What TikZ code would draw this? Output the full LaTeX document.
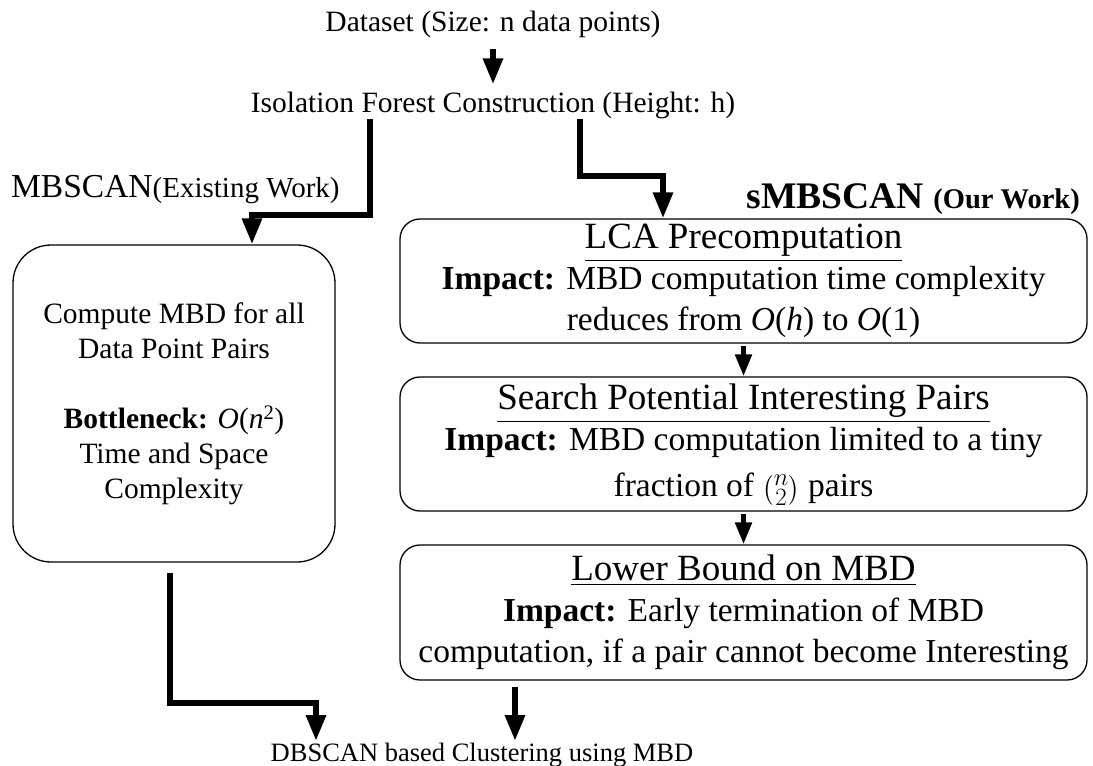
\documentclass[tikz,border=0pt]{standalone}
\usepackage{amsmath}
\usepackage{fontspec}
\setmainfont{Liberation Serif}
\usetikzlibrary{arrows.meta,positioning}
\newcommand{\stagetitle}[1]{{\fontsize{37}{44}\selectfont\underline{#1}}}
\tikzset{
  plainlabel/.style={
    inner sep=0pt,
    font=\fontsize{29.5}{35}\selectfont
  },
  legacybox/.style={
    draw,
    line width=1.3pt,
    rounded corners=38pt,
    align=center,
    minimum width=322pt,
    minimum height=317pt,
    font=\fontsize{29.5}{35}\selectfont
  },
  stagebox/.style={
    draw,
    line width=1.3pt,
    rounded corners=20pt,
    align=center,
    minimum width=687pt,
    inner sep=0pt,
    font=\fontsize{33.5}{41}\selectfont
  },
  heavyarrow/.style={-{Triangle[width=19pt,length=26pt]}, line width=6pt},
  thinarrow/.style={-{Triangle[width=16pt,length=22pt]}, line width=5pt, shorten <=2pt}
}

\begin{document}
\begin{tikzpicture}[x=1pt,y=-1pt]
  \useasboundingbox (0,0) rectangle (1093,766);
  \node[plainlabel, anchor=base] (data) at (493,31) {Dataset (Size: n data points)};
  \node[plainlabel, anchor=base] (iso) at (493,112) {Isolation Forest Construction (Height: h)};
  \node[anchor=base west, inner sep=0pt] (oldtag) at (11,197) {\fontsize{33.5}{40}\selectfont MBSCAN\fontsize{29}{35}\selectfont(Existing Work)};
  \node[anchor=base east, inner sep=0pt, font=\bfseries] (newtag) at (1080,208) {\fontsize{37.5}{44}\selectfont sMBSCAN \fontsize{28.5}{34}\selectfont(Our Work)};
  \node[legacybox] (oldwork) at (174,403.5) {Compute MBD for all\\ Data Point Pairs\\[35pt] \textbf{Bottleneck:} \textit{O}(\textit{n}\textsuperscript{2})\\ Time and Space\\ Complexity};
  \node[stagebox, minimum height=124pt] (lca) at (743.5,281) {\stagetitle{LCA Precomputation}\\ \textbf{Impact:} MBD computation time complexity\\ reduces from \textit{O}(\textit{h}) to \textit{O}(1)};
  \node[stagebox, minimum height=134pt] (pairs) at (743.5,444) {\stagetitle{Search Potential Interesting Pairs}\\ \textbf{Impact:} MBD computation limited to a tiny\\[5pt] fraction of \smash{$\tbinom{n}{2}$} pairs};
  \node[stagebox, minimum height=135pt] (lowbound) at (743.5,612.5) {\stagetitle{Lower Bound on MBD}\\ \textbf{Impact:} Early termination of MBD\\ computation, if a pair cannot become Interesting};
  \node[plainlabel, anchor=north, inner sep=2pt, font=\fontsize{26.5}{32}\selectfont] (dbscan) at (482,741) {DBSCAN based Clustering using MBD};
  \draw[heavyarrow, shorten <=12pt, shorten >=7pt] (data) -- (iso);
  \draw[heavyarrow] ([xshift=-123pt]iso.south) -- ++(0,96) -| ([xshift=78pt]oldwork.north);
  \draw[heavyarrow] ([xshift=87pt]iso.south) -- ++(0,57) -| ([xshift=-80.5pt]lca.north);
  \draw[thinarrow] (lca) -- (pairs);
  \draw[thinarrow] (pairs) -- (lowbound);
  \draw[heavyarrow] ([xshift=-4pt,yshift=-10pt]oldwork.south) -- ++(0,130) -| ([xshift=-166pt]dbscan.north);
  \draw[heavyarrow] ([xshift=-228.5pt,yshift=-6pt]lowbound.south) -- ([xshift=33pt]dbscan.north);
\end{tikzpicture}
\end{document}
